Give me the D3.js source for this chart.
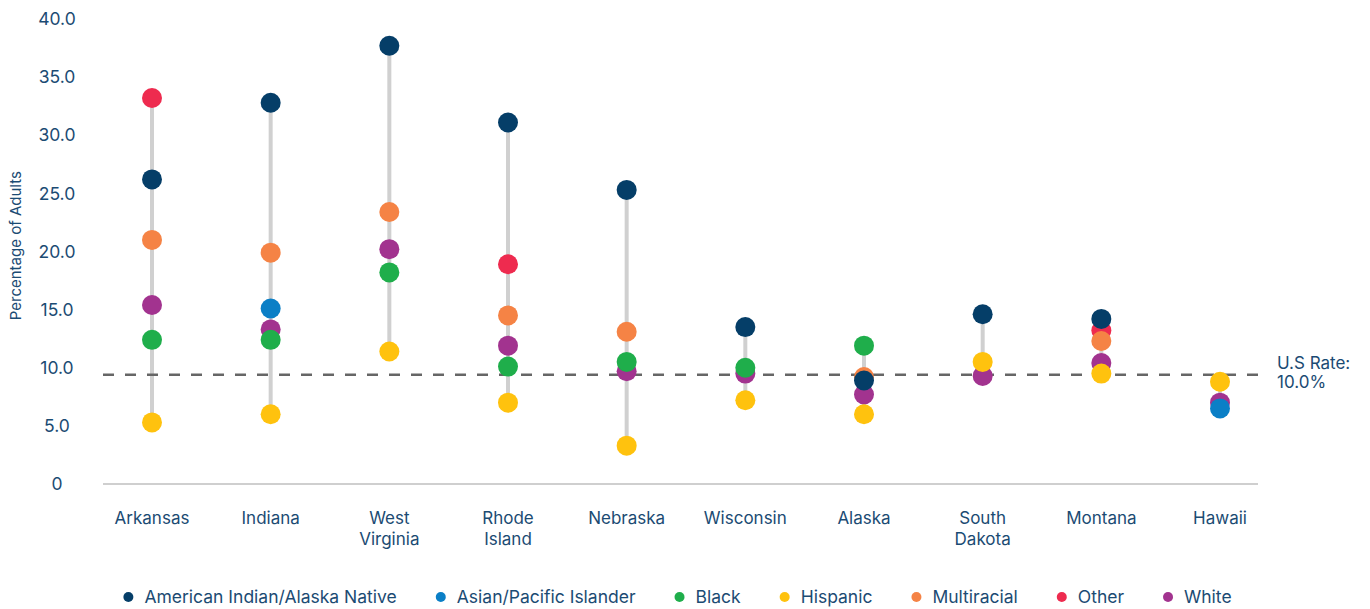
<!DOCTYPE html>
<html>
<head>
<meta charset="utf-8">
<script src="https://cdn.jsdelivr.net/npm/d3@7"></script>
<style>
  body { margin: 0; background: #fff; }
  svg text { font-family: Inter, "Noto Sans", sans-serif; fill: #1b4b73; }
</style>
</head>
<body>
<div id="chart"></div>
<script>
const states = ['Arkansas', 'Indiana', 'West Virginia', 'Rhode Island', 'Nebraska',
  'Wisconsin', 'Alaska', 'South Dakota', 'Montana', 'Hawaii'];
const stateLabels = [['Arkansas'], ['Indiana'], ['West', 'Virginia'], ['Rhode', 'Island'], ['Nebraska'],
  ['Wisconsin'], ['Alaska'], ['South', 'Dakota'], ['Montana'], ['Hawaii']];

const groups = ['American Indian/Alaska Native', 'Asian/Pacific Islander', 'Black', 'Hispanic',
  'Multiracial', 'Other', 'White'];
const groupColors = ['#053e68', '#0b7fc6', '#1fae4b', '#ffc20e', '#f58345', '#ee2b4f', '#a2338f'];

// one array per group, null where not shown
const aian   = [26.2, 32.8, 37.7, 31.1, 25.3, 13.5, 8.9, 14.6, 14.2, null];
const asian  = [null, 15.1, null, null, null, null, null, null, null, 6.5];
const black  = [12.4, 12.4, 18.2, 10.1, 10.5, 10.0, 11.9, null, null, null];
const hisp   = [5.3, 6.0, 11.4, 7.0, 3.3, 7.2, 6.0, 10.5, 9.5, 8.8];
const multi  = [21.0, 19.9, 23.4, 14.5, 13.1, null, 9.2, null, 12.3, null];
const other  = [33.2, null, null, 18.9, null, null, null, null, 13.2, null];
const white  = [15.4, 13.3, 20.2, 11.9, 9.7, 9.5, 7.7, 9.3, 10.4, 7.0];
const seriesValues = [aian, asian, black, hisp, multi, other, white];

const usRate = 9.4;
const usRateLabel = ['U.S Rate:', '10.0%'];
const yTicks = [0, 5, 10, 15, 20, 25, 30, 35, 40];

const width = 1370, height = 609;
const svg = d3.select('#chart').append('svg')
  .attr('width', width).attr('height', height);

const x = d3.scalePoint().domain(states).range([152, 1220]);
const y = d3.scaleLinear().domain([0, 40]).range([484, 19]);

// y tick labels
svg.selectAll('.ytick')
  .data(yTicks)
  .enter().append('text')
  .attr('class', 'ytick')
  .attr('x', 57)
  .attr('y', d => y(d))
  .attr('dy', '0.35em')
  .attr('text-anchor', 'middle')
  .style('font-size', '17.5px')
  .text(d => d === 0 ? '0' : d.toFixed(1));

svg.append('text')
  .attr('transform', `translate(21,${y(20.5)}) rotate(-90)`)
  .attr('text-anchor', 'middle')
  .style('font-size', '15px')
  .text('Percentage of Adults');

// baseline
svg.append('line')
  .attr('x1', 103).attr('x2', 1258)
  .attr('y1', y(0)).attr('y2', y(0))
  .style('stroke', '#cfcfcf').style('stroke-width', 2);

// x labels
const xl = svg.selectAll('.xlabel')
  .data(states)
  .enter().append('text')
  .attr('class', 'xlabel')
  .attr('text-anchor', 'middle')
  .attr('x', d => x(d))
  .attr('y', 524)
  .style('font-size', '17px');
xl.selectAll('tspan')
  .data((d, i) => stateLabels[i])
  .enter().append('tspan')
  .attr('x', function () { return d3.select(this.parentNode).attr('x'); })
  .attr('dy', (d, i) => i === 0 ? 0 : 21)
  .text(d => d);

// range lines
const ranges = states.map((s, i) => {
  const vals = seriesValues.map(v => v[i]).filter(v => v != null);
  return { state: s, min: d3.min(vals), max: d3.max(vals) };
});
svg.selectAll('.range')
  .data(ranges)
  .enter().append('line')
  .attr('class', 'range')
  .attr('x1', d => x(d.state)).attr('x2', d => x(d.state))
  .attr('y1', d => y(d.min)).attr('y2', d => y(d.max))
  .style('stroke', '#d0d0d0').style('stroke-width', 4);

// US rate dashed line
svg.append('line')
  .attr('x1', 103).attr('x2', 1258)
  .attr('y1', y(usRate)).attr('y2', y(usRate))
  .style('stroke', '#666').style('stroke-width', 2.5)
  .style('stroke-dasharray', '11,11');

svg.append('text')
  .attr('x', 1277).attr('y', y(usRate) - 6)
  .style('font-size', '17px')
  .selectAll('tspan')
  .data(usRateLabel)
  .enter().append('tspan')
  .attr('x', 1277)
  .attr('dy', (d, i) => i === 0 ? 0 : 19)
  .text(d => d);

// dots, last legend group drawn first so AIAN sits on top
const dots = [];
for (let g = groups.length - 1; g >= 0; g--) {
  seriesValues[g].forEach((v, i) => {
    if (v != null) dots.push({ state: states[i], value: v, g });
  });
}
svg.selectAll('.dot')
  .data(dots)
  .enter().append('circle')
  .attr('class', 'dot')
  .attr('cx', d => x(d.state))
  .attr('cy', d => y(d.value))
  .attr('r', 10)
  .style('fill', d => groupColors[d.g]);

// legend
const legend = svg.append('g');
const gap = 44;
let lx = 0;
groups.forEach((name, i) => {
  const item = legend.append('g').attr('transform', `translate(${lx},0)`);
  item.append('circle').attr('cx', 0).attr('cy', 0).attr('r', 5)
    .style('fill', groupColors[i]);
  const t = item.append('text').attr('x', 16).attr('dy', '0.35em')
    .style('font-size', '17.5px').text(name);
  lx += 16 + t.node().getComputedTextLength() + gap;
});
const legendW = lx - gap;
legend.attr('transform', `translate(${(1370 - legendW) / 2 - 5},597)`);
</script>
</body>
</html>
